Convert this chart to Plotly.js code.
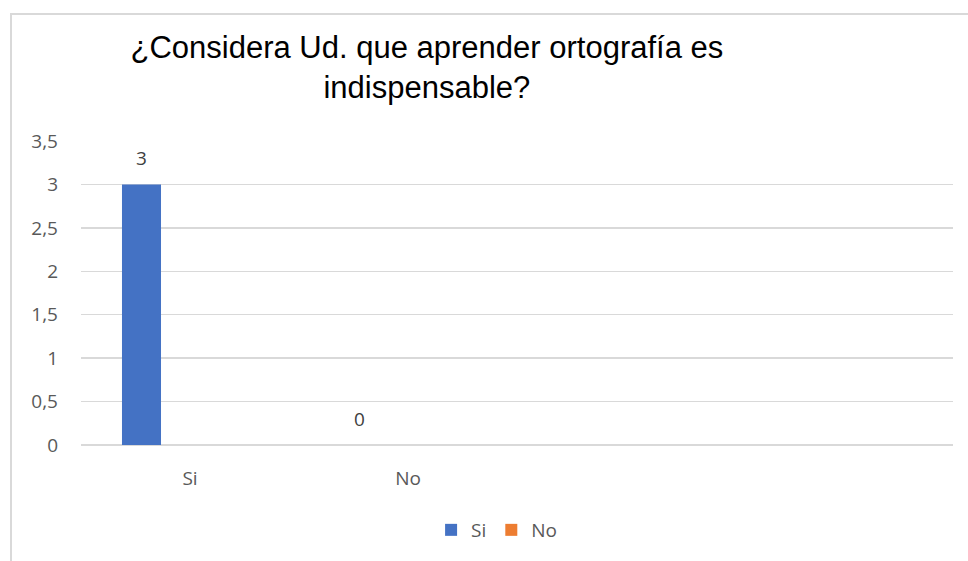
<!DOCTYPE html>
<html>
<head>
<meta charset="utf-8">
<script src="https://cdn.plot.ly/plotly-3.0.1.min.js"></script>
<style>
  html, body { margin: 0; padding: 0; background: #fff; }
  #wrap { position: relative; width: 968px; height: 561px; }
  #chart { position: absolute; left: 0; top: 0; width: 968px; height: 561px; }
  #frame { position: absolute; left: 10px; top: 13px; width: 970px; height: 560px;
           border-left: 2px solid #d9d9d9; border-top: 2px solid #d9d9d9; pointer-events: none; }
</style>
</head>
<body>
<div id="wrap">
  <div id="chart"></div>
  <div id="frame"></div>
</div>
<script>
// ---- data ----
const categories = ["Si", "No"];
const seriesNames = ["Si", "No"];
const siValues = [3, 0];
const noValues = [null, null];
const yTickVals = [0, 0.5, 1, 1.5, 2, 2.5, 3, 3.5];
const yTickText = ["0", "0,5", "1", "1,5", "2", "2,5", "3", "3,5"];
const titleText = "¿Considera Ud. que aprender ortografía es<br>indispensable?";

// ---- styling ----
const colors = ["#4472c4", "#ed7d31"];
const barWidth = 0.179;
const offsets = [-0.312, 0.133];
const tickFont = { family: "Open Sans, sans-serif", size: 19, color: "#595959" };

const traces = [
  { type: "bar", name: seriesNames[0], x: categories, y: siValues,
    marker: { color: colors[0] }, width: barWidth, offset: offsets[0], hoverinfo: "skip" },
  { type: "bar", name: seriesNames[1], x: categories, y: noValues,
    marker: { color: colors[1] }, width: barWidth, offset: offsets[1], hoverinfo: "skip" }
];

// data labels for the Si series
const annotations = [];
siValues.forEach((v, i) => {
  if (v === null) return;
  annotations.push({
    x: i + offsets[0] + barWidth / 2, y: v, xref: "x", yref: "y",
    text: String(v), showarrow: false, yanchor: "bottom", yshift: 11,
    font: { family: "Open Sans, sans-serif", size: 19, color: "#404040" }
  });
});

const layout = {
  width: 968, height: 561,
  margin: { l: 81, r: 15, t: 141, b: 116, pad: 0 },
  paper_bgcolor: "#ffffff", plot_bgcolor: "#ffffff",
  barmode: "group",
  title: {
    text: titleText, xref: "container", yref: "container",
    x: 0.441, xanchor: "center", y: 1 - 58 / 561, yanchor: "top",
    font: { family: "Liberation Sans, Arial, sans-serif", size: 31, color: "#000000" }
  },
  xaxis: {
    type: "category", range: [-0.5, 3.5], showgrid: false, zeroline: false,
    showline: false, ticks: "", tickfont: tickFont, ticklabelstandoff: 20, fixedrange: true
  },
  yaxis: {
    range: [0, 3.5], tickvals: yTickVals, ticktext: yTickText,
    showgrid: true, gridcolor: "#d9d9d9", gridwidth: 1.5,
    zeroline: true, zerolinecolor: "#d9d9d9", zerolinewidth: 1.5,
    showline: false, ticks: "", tickfont: tickFont, ticklabelstandoff: 22, fixedrange: true
  },
  showlegend: true,
  legend: {
    orientation: "h", xref: "container", yref: "container",
    x: 0.513, xanchor: "center", y: 1 - 530 / 561, yanchor: "middle",
    font: { family: "Open Sans, sans-serif", size: 19, color: "#595959" },
    itemwidth: 30, traceorder: "normal"
  },
  annotations: annotations
};

Plotly.newPlot("chart", traces, layout, { displayModeBar: false, staticPlot: true });
</script>
</body>
</html>
